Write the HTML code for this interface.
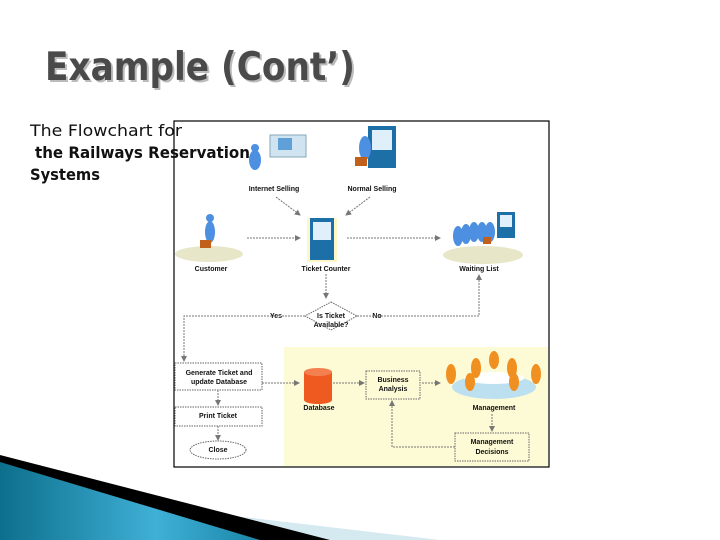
<!DOCTYPE html>
<html><head><meta charset="utf-8"><style>
body{margin:0;width:720px;height:540px;overflow:hidden;background:#fff;font-family:"Liberation Sans",sans-serif;position:relative}
</style></head><body>
<svg width="720" height="540" style="position:absolute;left:0;top:0" font-family="Liberation Sans, sans-serif">
<defs>
<marker id="a" markerWidth="6" markerHeight="6" refX="5" refY="3" orient="auto"><path d="M0,0L6,3L0,6z" fill="#777"/></marker>
<linearGradient id="bl" x1="0" y1="0" x2="1" y2="0"><stop offset="0" stop-color="#0d6f8c"/><stop offset="0.6" stop-color="#3fb0d6"/><stop offset="1" stop-color="#1a86a8"/></linearGradient>
</defs>
<!-- title -->
<text x="47" y="82" font-size="39" font-weight="bold" fill="#bbb" font-family="DejaVu Sans, sans-serif" textLength="310" lengthAdjust="spacingAndGlyphs">Example (Cont’)</text>
<text x="45" y="80" font-size="39" font-weight="bold" fill="#4a4a4a" font-family="DejaVu Sans, sans-serif" textLength="310" lengthAdjust="spacingAndGlyphs">Example (Cont’)</text>
<!-- image frame -->
<rect x="174" y="121" width="375" height="346" fill="#fff" stroke="#000" stroke-width="1.2"/>
<rect x="284" y="347" width="264" height="119" fill="#fdfbd6"/>
<text x="30" y="136" font-size="16" fill="#111" font-family="DejaVu Sans, sans-serif" textLength="152" lengthAdjust="spacingAndGlyphs">The Flowchart for</text>
<text x="35" y="158" font-size="16" font-weight="bold" fill="#111" font-family="DejaVu Sans, sans-serif" textLength="215" lengthAdjust="spacingAndGlyphs">the Railways Reservation</text>
<text x="30" y="180" font-size="16" font-weight="bold" fill="#111" font-family="DejaVu Sans, sans-serif" textLength="70" lengthAdjust="spacingAndGlyphs">Systems</text>
<!-- icons -->
<g>
<rect x="270" y="135" width="36" height="22" fill="#cfe3f0" stroke="#8ab"/><rect x="278" y="138" width="14" height="12" fill="#5fa0d8"/>
<ellipse cx="255" cy="160" rx="6" ry="10" fill="#4d8fe0"/><circle cx="255" cy="148" r="4" fill="#4d8fe0"/>
<rect x="368" y="126" width="28" height="42" fill="#1d6fa8"/><rect x="372" y="130" width="20" height="20" fill="#dff0fa"/>
<ellipse cx="365" cy="148" rx="6" ry="12" fill="#4d8fe0"/><rect x="355" y="157" width="12" height="9" fill="#c0601a"/>
<ellipse cx="209" cy="254" rx="34" ry="8" fill="#e8e6c8"/>
<ellipse cx="210" cy="232" rx="5" ry="11" fill="#4d8fe0"/><circle cx="210" cy="218" r="4" fill="#4d8fe0"/><rect x="200" y="240" width="11" height="8" fill="#c0601a"/>
<rect x="307" y="218" width="30" height="44" fill="#fff6c8"/><rect x="310" y="218" width="24" height="42" fill="#1d6fa8"/><rect x="313" y="222" width="18" height="18" fill="#dff0fa"/>
<ellipse cx="483" cy="255" rx="40" ry="9" fill="#e8e6c8"/>
<g fill="#4d8fe0"><ellipse cx="458" cy="236" rx="5" ry="10"/><ellipse cx="466" cy="234" rx="5" ry="10"/><ellipse cx="474" cy="232" rx="5" ry="10"/><ellipse cx="482" cy="232" rx="5" ry="10"/><ellipse cx="490" cy="232" rx="5" ry="10"/></g>
<rect x="497" y="212" width="18" height="26" fill="#1d6fa8"/><rect x="500" y="215" width="12" height="12" fill="#dff0fa"/><rect x="483" y="237" width="8" height="7" fill="#c0601a"/>
<rect x="304" y="372" width="28" height="28" fill="#ee5a20"/><ellipse cx="318" cy="372" rx="14" ry="4" fill="#f48050"/><ellipse cx="318" cy="400" rx="14" ry="4" fill="#ee5a20"/>
<ellipse cx="494" cy="387" rx="42" ry="12" fill="#bde0f0"/><ellipse cx="494" cy="378" rx="30" ry="6" fill="#fff"/>
<g fill="#f09020"><ellipse cx="451" cy="374" rx="5" ry="10"/><ellipse cx="476" cy="368" rx="5" ry="10"/><ellipse cx="494" cy="360" rx="5" ry="9"/><ellipse cx="512" cy="368" rx="5" ry="10"/><ellipse cx="536" cy="374" rx="5" ry="10"/><ellipse cx="470" cy="382" rx="5" ry="9"/><ellipse cx="514" cy="382" rx="5" ry="9"/></g>
</g>
<!-- labels -->
<g font-size="7" fill="#111" text-anchor="middle" font-weight="bold">
<text x="274" y="191">Internet Selling</text><text x="372" y="191">Normal Selling</text>
<text x="211" y="271">Customer</text><text x="326" y="271">Ticket Counter</text><text x="479" y="271">Waiting List</text>
<text x="331" y="318">Is Ticket</text><text x="331" y="327">Available?</text>
<text x="276" y="318">Yes</text><text x="377" y="318">No</text>
<text x="219" y="375">Generate Ticket and</text><text x="219" y="384">update Database</text>
<text x="218" y="418">Print Ticket</text><text x="218" y="452">Close</text>
<text x="319" y="410">Database</text><text x="393" y="382">Business</text><text x="393" y="391">Analysis</text>
<text x="494" y="410">Management</text><text x="492" y="444">Management</text><text x="492" y="454">Decisions</text>
</g>
<g fill="none" stroke="#666" stroke-dasharray="1.5,1" stroke-width="1">
<path d="M331,302L357,316L331,330L305,316Z"/>
<rect x="175" y="363" width="87" height="27"/><rect x="175" y="407" width="87" height="19"/>
<ellipse cx="218" cy="450" rx="28" ry="9"/>
<rect x="366" y="371" width="54" height="28"/><rect x="455" y="433" width="74" height="28"/>
</g>
<g fill="none" stroke="#777" stroke-dasharray="2,1" stroke-width="1" marker-end="url(#a)">
<path d="M276,197L300,215"/><path d="M370,197L346,215"/>
<path d="M247,238L300,238"/><path d="M347,238L440,238"/>
<path d="M326,274L326,298"/>
<path d="M305,316L184,316L184,361"/><path d="M357,316L479,316L479,275"/>
<path d="M218,390L218,405"/><path d="M218,426L218,440"/>
<path d="M262,383L299,383"/><path d="M333,383L364,383"/><path d="M422,383L440,383"/>
<path d="M492,414L492,431"/><path d="M455,447L392,447L392,401"/>
</g>
<!-- bottom decoration -->
<polygon points="0,475 140,505 440,540 80,540" fill="#d5e9f0"/>
<polygon points="0,455 330,540 250,540 0,470" fill="#000"/>
<polygon points="0,462 260,540 0,540" fill="url(#bl)"/>
</svg>
</body></html>
